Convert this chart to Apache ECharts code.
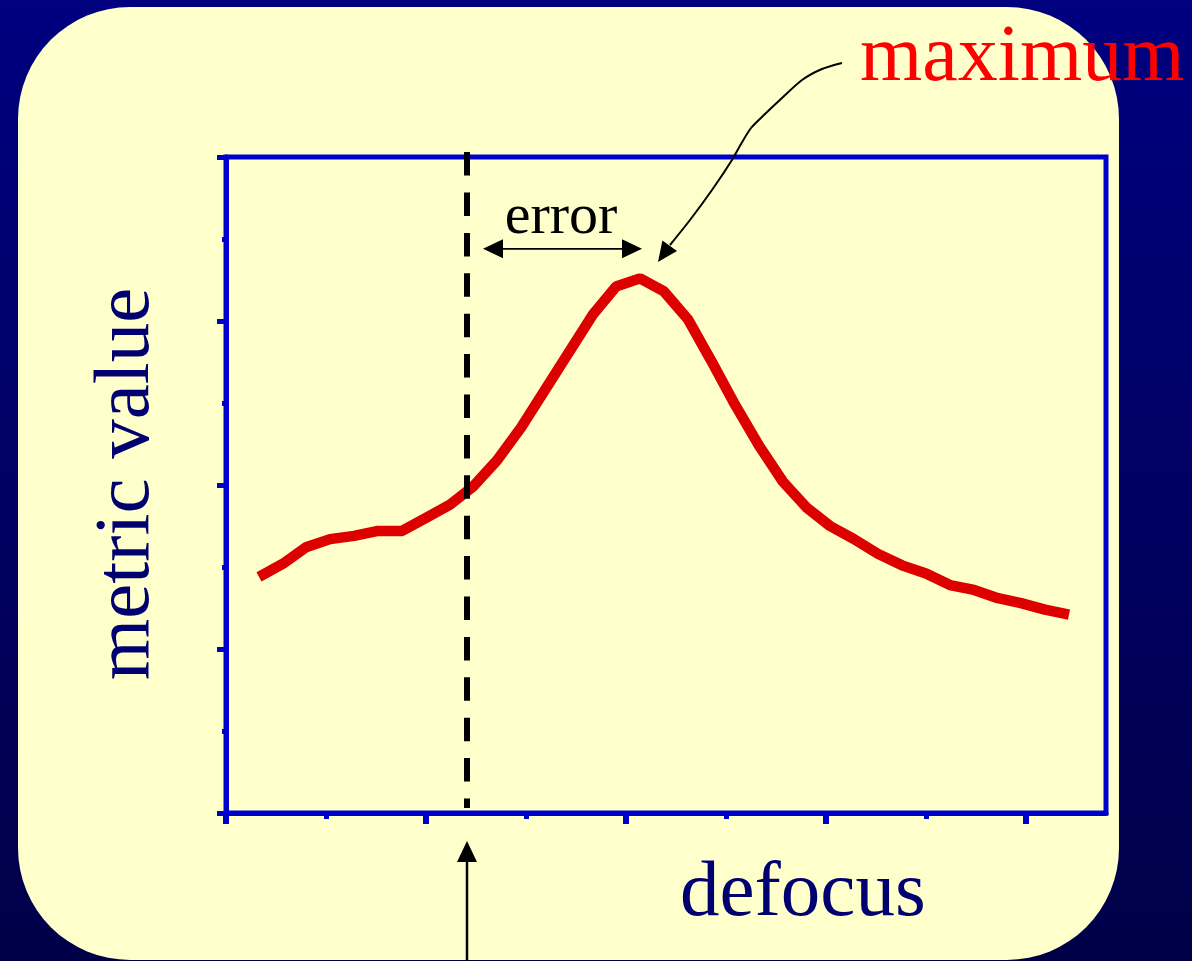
<!DOCTYPE html>
<html>
<head>
<meta charset="utf-8">
<script src="https://cdn.jsdelivr.net/npm/echarts@6/dist/echarts.min.js"></script>
<style>
html,body{margin:0;padding:0;}
#chart{width:1192px;height:961px;background:linear-gradient(#000080,#000048);}
</style>
</head>
<body>
<div id="chart"></div>
<script>
// curve (defocus, metric value)
const defocus = [0.33,0.57,0.80,1.04,1.28,1.52,1.76,2.00,2.24,2.47,2.71,2.95,3.19,3.43,3.67,3.90,4.14,4.38,4.62,4.85,5.09,5.33,5.57,5.81,6.04,6.28,6.52,6.76,7.00,7.24,7.48,7.72,7.95,8.19,8.43]
const metric = [1.44,1.52,1.62,1.67,1.69,1.72,1.72,1.80,1.88,1.99,2.15,2.35,2.58,2.81,3.04,3.21,3.26,3.18,3.01,2.76,2.49,2.24,2.02,1.86,1.75,1.67,1.58,1.51,1.46,1.39,1.36,1.31,1.28,1.24,1.21]
const xMajorTicks = [0,2,4,6,8]
const xMinorTicks = [1,3,5,7]
// estimated focus (dashed line) and the error span up to the maximum
const focusX = 2.41
const errorSpan = [2.57, 4.16]
const errorY = 3.44

const blue = '#0000CC'
const serif = "'Liberation Serif','Times New Roman',serif"

let chart = echarts.init(document.getElementById('chart'))

let option = {
  backgroundColor: 'transparent',
  animation: false,
  grid: {
    left: 226, top: 157, width: 880, height: 656,
    show: true, borderColor: blue, borderWidth: 5, backgroundColor: 'transparent'
  },
  xAxis: [
    {
      type: 'value', min: 0, max: 8.8, interval: 2, position: 'bottom',
      axisLine: {lineStyle: {color: blue, width: 5}},
      axisTick: {show: true, inside: false, length: 11, customValues: xMajorTicks, lineStyle: {color: blue, width: 6}},
      axisLabel: {show: false},
      splitLine: {show: false}
    },
    {
      type: 'value', min: 0, max: 8.8, interval: 2, position: 'bottom', gridIndex: 0,
      axisLine: {show: false},
      axisTick: {show: true, inside: false, length: 6, customValues: xMinorTicks, lineStyle: {color: blue, width: 5}},
      axisLabel: {show: false},
      splitLine: {show: false}
    }
  ],
  yAxis: {
    type: 'value', min: 0, max: 4, interval: 1,
    axisLine: {show: true, lineStyle: {color: blue, width: 5}},
    axisTick: {show: true, inside: false, length: 9, lineStyle: {color: blue, width: 5}},
    minorTick: {show: true, splitNumber: 2, length: 4, lineStyle: {color: blue, width: 5}},
    axisLabel: {show: false},
    splitLine: {show: false}
  },
  series: [
    {
      type: 'line',
      data: defocus.map((d, i) => [d, metric[i]]),
      symbol: 'none',
      lineStyle: {color: '#DD0000', width: 10.5},
      z: 5
    },
    {
      // dashed marker at the estimated focus
      type: 'line',
      data: [[focusX, 4.03], [focusX, 0.03]],
      symbol: 'none',
      clip: false,
      lineStyle: {color: '#000', width: 6, type: [23.5, 16.9]},
      z: 6
    }
  ],
  graphic: {
    elements: [
      {id: 'panel', type: 'rect', z: -10, silent: true,
       shape: {x: 18, y: 7, width: 1101, height: 953, r: 112},
       style: {fill: '#FFFFCC'}}
    ]
  }
}
chart.setOption(option)

function head(tip, from, len, half, id) {
  let dx = tip[0] - from[0], dy = tip[1] - from[1]
  let l = Math.sqrt(dx * dx + dy * dy)
  dx /= l; dy /= l
  let bx = tip[0] - dx * len, by = tip[1] - dy * len
  return {id: id, type: 'polygon', z: 100,
    shape: {points: [tip, [bx - dy * half, by + dx * half], [bx + dy * half, by - dx * half]]},
    style: {fill: '#000'}}
}
function text(id, str, x, y, size, color, align, rot) {
  return {id: id, type: 'text', z: 100, x: x, y: y, rotation: rot || 0,
    style: {text: str, font: size + 'px ' + serif, fill: color,
      align: align, textAlign: align, verticalAlign: 'middle', textVerticalAlign: 'middle'}}
}

let errL = chart.convertToPixel({gridIndex: 0}, [errorSpan[0], errorY])
let errR = chart.convertToPixel({gridIndex: 0}, [errorSpan[1], errorY])
let fx = chart.convertToPixel({gridIndex: 0}, [focusX, 0])[0]

// curved pointer from the label down to the peak
let maxPath = [[842,63],[822,69],[802,80],[782,98],[765,114],[751,128],[741,144],[732,160],[712,190],[690,220],[670,245]]
let maxTip = [658, 262]

chart.setOption({
  graphic: {
    elements: [
      {id: 'errLine', type: 'line', z: 100, shape: {x1: errL[0] + 10, y1: errL[1], x2: errR[0] - 10, y2: errR[1]},
       style: {stroke: '#000', lineWidth: 1.6}},
      head(errL, errR, 20, 9.5, 'errHeadL'),
      head(errR, errL, 20, 9.5, 'errHeadR'),
      {id: 'maxLine', type: 'polyline', z: 100, shape: {points: maxPath, smooth: 0.25},
       style: {stroke: '#000', lineWidth: 2, fill: null}},
      head(maxTip, [684, 226], 20, 9, 'maxHead'),
      {id: 'focusLine', type: 'line', z: 100, shape: {x1: fx, y1: 961, x2: fx, y2: 855},
       style: {stroke: '#000', lineWidth: 2.5}},
      head([fx, 841], [fx, 961], 21, 10, 'focusHead'),
      text('errText', 'error', 561, 218, 58, '#000', 'center'),
      text('maxText', 'maximum', 860, 59, 80, '#FF0000', 'left'),
      text('xName', 'defocus', 680, 894, 79, '#000070', 'left'),
      text('yName', 'metric value', 127, 484, 79, '#000070', 'center', Math.PI / 2)
    ]
  }
})
</script>
</body>
</html>
